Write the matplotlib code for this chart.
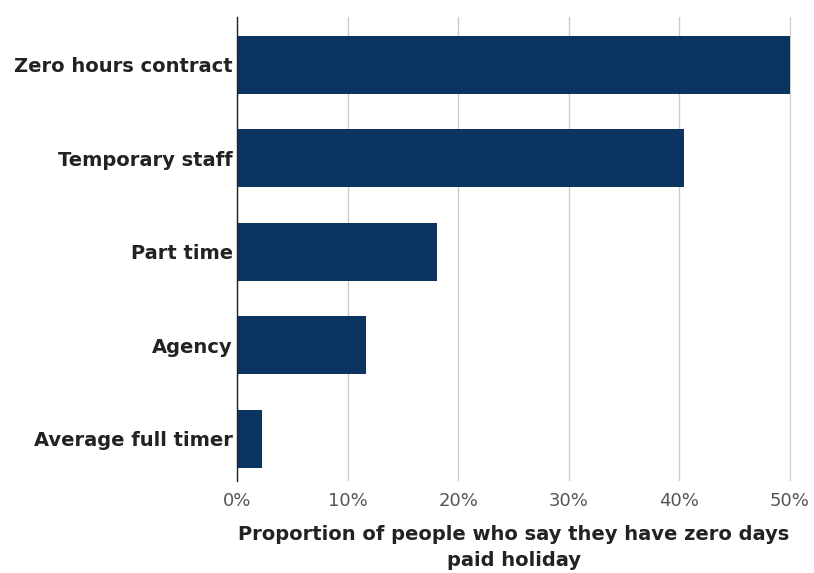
import matplotlib.pyplot as plt
from matplotlib.ticker import FuncFormatter

# data
categories = ["Zero hours contract", "Temporary staff", "Part time",
              "Agency", "Average full timer"]
values = [50.0, 40.4, 18.1, 11.7, 2.3]
xticks = [0, 10, 20, 30, 40, 50]

bar_col = "#0c3461"

fig = plt.figure(figsize=(8.14, 5.73), dpi=100)
ax = fig.add_axes([0.2912, 0.1606, 0.6805, 0.8097])

ypos = list(range(len(categories)))
ax.barh(ypos, values, height=0.62, color=bar_col, zorder=3)

ax.set_ylim(4.45, -0.51)
ax.set_xlim(0, 50.1)
ax.set_yticks(ypos)
ax.set_yticklabels(categories, fontsize=14, fontweight="bold", color="#222222")
ax.set_xticks(xticks)
ax.xaxis.set_major_formatter(FuncFormatter(lambda v, p: "%d%%" % v))
ax.tick_params(axis="x", length=0, pad=8, labelsize=13, labelcolor="#555555")
ax.tick_params(axis="y", length=0, pad=3)

ax.grid(axis="x", color="#cccccc", linewidth=1, zorder=0)
for s in ["top", "right", "bottom"]:
    ax.spines[s].set_visible(False)
ax.spines["left"].set_color("#222222")
ax.spines["left"].set_linewidth(1)
ax.spines["left"].set_zorder(4)

ax.set_xlabel("Proportion of people who say they have zero days\npaid holiday",
              fontsize=14, fontweight="bold", color="#222222", labelpad=11,
              linespacing=1.47)

fig.savefig("out.png", dpi=100)
